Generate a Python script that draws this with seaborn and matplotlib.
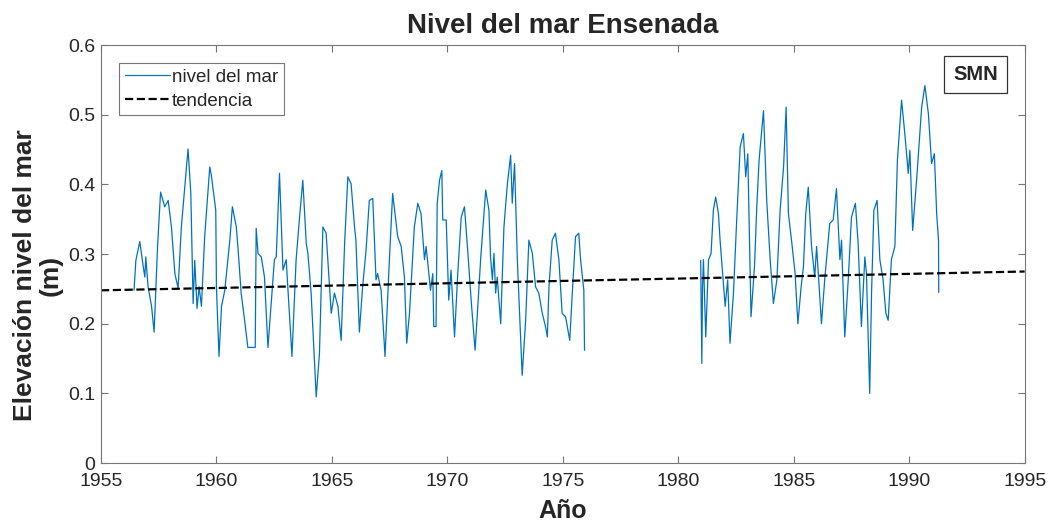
import numpy as np
import pandas as pd
import matplotlib
matplotlib.use("Agg")
import matplotlib.pyplot as plt
import seaborn as sns

# (decimal year, sea level in m)
years_1 = [1956.43, 1956.51, 1956.68, 1956.83, 1956.90, 1956.94, 1957.04, 1957.19, 1957.30, 1957.45,
           1957.58, 1957.76, 1957.91, 1958.05, 1958.20, 1958.34, 1958.48, 1958.77, 1958.89, 1958.99,
           1959.06, 1959.16, 1959.25, 1959.35, 1959.49, 1959.71, 1959.78, 1959.97, 1960.00, 1960.11,
           1960.22, 1960.36, 1960.58, 1960.69, 1960.86, 1960.93, 1961.07, 1961.22, 1961.36, 1961.68,
           1961.72, 1961.80, 1961.94, 1962.08, 1962.23, 1962.37, 1962.51, 1962.59, 1962.73, 1962.88,
           1963.02, 1963.09, 1963.27, 1963.45, 1963.60, 1963.74, 1963.89, 1963.96, 1964.10, 1964.32,
           1964.46, 1964.61, 1964.75, 1964.90, 1964.97, 1965.11, 1965.26, 1965.40, 1965.55, 1965.69,
           1965.83, 1965.98, 1966.04, 1966.19, 1966.33, 1966.48, 1966.62, 1966.77, 1966.91, 1966.98,
           1967.13, 1967.30, 1967.49, 1967.63, 1967.85, 1968.00, 1968.14, 1968.24, 1968.36, 1968.57,
           1968.72, 1968.86, 1969.01, 1969.08, 1969.27, 1969.37, 1969.41, 1969.51, 1969.56, 1969.66,
           1969.76, 1969.80, 1969.95, 1970.06, 1970.16, 1970.31, 1970.45, 1970.60, 1970.74, 1970.89,
           1971.03, 1971.20, 1971.30, 1971.44, 1971.66, 1971.80, 1971.87, 1971.95, 1972.02, 1972.09,
           1972.16, 1972.31, 1972.45, 1972.60, 1972.74, 1972.81, 1972.91, 1973.03, 1973.24, 1973.39,
           1973.53, 1973.68, 1973.82, 1973.96, 1974.11, 1974.25, 1974.33, 1974.40, 1974.54, 1974.68,
           1974.83, 1974.97, 1975.12, 1975.30, 1975.41, 1975.55, 1975.69, 1975.77, 1975.91, 1975.94]
level_1 = [0.248, 0.291, 0.318, 0.282, 0.267, 0.296, 0.253, 0.225, 0.188, 0.311,
           0.389, 0.368, 0.377, 0.339, 0.272, 0.251, 0.339, 0.451, 0.387, 0.229,
           0.291, 0.222, 0.253, 0.225, 0.325, 0.425, 0.413, 0.363, 0.253, 0.153,
           0.225, 0.248, 0.320, 0.368, 0.339, 0.310, 0.244, 0.205, 0.166, 0.166,
           0.337, 0.301, 0.296, 0.267, 0.166, 0.229, 0.292, 0.296, 0.416, 0.277,
           0.292, 0.253, 0.153, 0.292, 0.353, 0.406, 0.315, 0.301, 0.244, 0.095,
           0.157, 0.339, 0.330, 0.253, 0.215, 0.244, 0.225, 0.176, 0.315, 0.411,
           0.401, 0.339, 0.320, 0.188, 0.253, 0.306, 0.377, 0.380, 0.263, 0.272,
           0.248, 0.153, 0.292, 0.387, 0.325, 0.311, 0.267, 0.172, 0.215, 0.339,
           0.373, 0.358, 0.292, 0.311, 0.248, 0.272, 0.196, 0.196, 0.373, 0.406,
           0.420, 0.349, 0.349, 0.234, 0.277, 0.181, 0.272, 0.353, 0.368, 0.301,
           0.234, 0.162, 0.215, 0.292, 0.392, 0.363, 0.296, 0.263, 0.301, 0.244,
           0.267, 0.200, 0.339, 0.401, 0.442, 0.373, 0.430, 0.292, 0.126, 0.205,
           0.320, 0.301, 0.253, 0.244, 0.215, 0.196, 0.181, 0.253, 0.320, 0.330,
           0.292, 0.215, 0.210, 0.176, 0.244, 0.325, 0.330, 0.292, 0.248, 0.162]

years_2 = [1980.97, 1981.02, 1981.05, 1981.09, 1981.19, 1981.31, 1981.42, 1981.52, 1981.62, 1981.74,
           1981.81, 1982.03, 1982.14, 1982.24, 1982.39, 1982.53, 1982.68, 1982.82, 1982.92, 1983.01,
           1983.15, 1983.30, 1983.40, 1983.50, 1983.69, 1983.83, 1983.98, 1984.12, 1984.27, 1984.41,
           1984.56, 1984.67, 1984.77, 1984.92, 1985.06, 1985.18, 1985.32, 1985.42, 1985.52, 1985.63,
           1985.77, 1985.91, 1985.99, 1986.20, 1986.35, 1986.56, 1986.71, 1986.85, 1987.00, 1987.07,
           1987.21, 1987.36, 1987.50, 1987.67, 1987.79, 1987.93, 1988.08, 1988.15, 1988.29, 1988.37,
           1988.47, 1988.61, 1988.73, 1988.87, 1988.99, 1989.09, 1989.23, 1989.38, 1989.49, 1989.67,
           1989.81, 1989.96, 1990.03, 1990.15, 1990.32, 1990.54, 1990.68, 1990.83, 1990.97, 1991.09,
           1991.19, 1991.27, 1991.28]
level_2 = [0.291, 0.143, 0.253, 0.292, 0.181, 0.292, 0.301, 0.363, 0.382, 0.358,
           0.320, 0.225, 0.263, 0.172, 0.244, 0.349, 0.454, 0.473, 0.411, 0.444,
           0.210, 0.282, 0.368, 0.435, 0.506, 0.377, 0.292, 0.229, 0.263, 0.363,
           0.425, 0.511, 0.358, 0.315, 0.272, 0.200, 0.253, 0.282, 0.358, 0.396,
           0.311, 0.267, 0.311, 0.200, 0.267, 0.344, 0.349, 0.394, 0.292, 0.320,
           0.181, 0.263, 0.353, 0.373, 0.315, 0.196, 0.296, 0.272, 0.100, 0.244,
           0.363, 0.377, 0.292, 0.263, 0.215, 0.205, 0.292, 0.311, 0.435, 0.521,
           0.473, 0.416, 0.449, 0.334, 0.406, 0.511, 0.542, 0.502, 0.430, 0.444,
           0.358, 0.320, 0.245]

trend_years = [1955, 1995]
trend_level = [0.248, 0.275]

df = pd.DataFrame({
    "year": years_1 + years_2,
    "level": level_1 + level_2,
    "seg": [1] * len(years_1) + [2] * len(years_2),
})
trend = pd.DataFrame({"year": trend_years, "level": trend_level})

sns.set_theme(style="white")
plt.rcParams["font.family"] = ["Liberation Sans", "DejaVu Sans"]

fig = plt.figure(figsize=(10.52, 5.25), dpi=100)
ax = fig.add_axes([0.096, 0.118, 0.878, 0.796])

blue = "#0072BD"
for seg, part in df.groupby("seg"):
    sns.lineplot(data=part, x="year", y="level", color=blue, linewidth=0.9, ax=ax,
                 label="nivel del mar" if seg == 1 else None)
sns.lineplot(data=trend, x="year", y="level", color="black", linestyle="--",
             linewidth=1.6, ax=ax, label="tendencia")

ax.set_xlim(1955, 1995)
ax.set_ylim(0, 0.6)
ax.set_xticks(np.arange(1955, 1996, 5))
ax.set_yticks(np.arange(0, 0.61, 0.1))
ax.set_yticklabels(["0", "0.1", "0.2", "0.3", "0.4", "0.5", "0.6"])

for s in ax.spines.values():
    s.set_color("#777777")
    s.set_linewidth(0.8)
ax.tick_params(direction="in", length=5, width=0.8, colors="#777777",
               labelsize=14, top=True, right=True, bottom=True, left=True,
               labelcolor="#262626")
ax.tick_params(axis="x", pad=7)
ax.tick_params(axis="y", pad=4)

ax.set_title("Nivel del mar Ensenada", fontsize=20, fontweight="bold", pad=9)
ax.set_xlabel("Año", fontsize=18, fontweight="bold", labelpad=7, color="#262626")
ax.set_ylabel("Elevación nivel del mar\n(m)", fontsize=19, fontweight="bold",
              color="#262626", linespacing=1.1)
ax.yaxis.set_label_coords(-0.041, 0.45)

leg = ax.legend(loc="upper left", bbox_to_anchor=(0.02, 0.957), borderaxespad=0,
                fontsize=13.5, frameon=True, fancybox=False, handlelength=2.4,
                handletextpad=0.1, borderpad=0.3, labelspacing=0.35)
leg.get_frame().set_edgecolor("#555555")
leg.get_frame().set_linewidth(0.8)
for t in leg.get_texts():
    t.set_color("#262626")

ax.text(0.947, 0.929, "SMN", transform=ax.transAxes, ha="center", va="center",
        fontsize=14.5, fontweight="bold",
        bbox=dict(boxstyle="square,pad=0.45", facecolor="white", edgecolor="#333333", linewidth=0.9))

fig.savefig("out.png", dpi=100)
